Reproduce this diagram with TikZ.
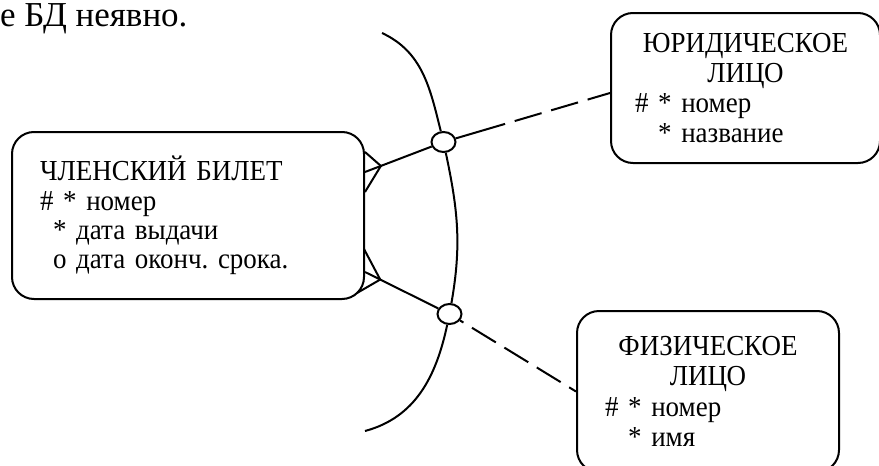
\documentclass[tikz,border=0pt]{standalone}
\usepackage{fontspec}
\setmainfont{Liberation Serif}
\newfontfamily\boxfont[FakeStretch=0.93]{Liberation Serif}
\usepackage{tikz}
\usepackage{xcolor}
\usetikzlibrary{calc,shapes}
\newcommand{\attr}[1]{\phantom{\#} #1}
\frenchspacing

\begin{document}
\begin{tikzpicture}[x=0.5pt, y=0.5pt, line width=1pt,
        entity/.style={draw, rounded corners=11pt, align=left, inner ysep=0pt,
            font=\boxfont\fontsize{14.5pt}{14.6pt}\selectfont},
        link/.style={line width=1pt},
        optional/.style={line width=1pt, dash pattern=on 14pt off 5pt},
        ring/.style={draw, ellipse, fill=white, minimum width=12pt, minimum height=10pt, inner sep=0pt}]
                \useasboundingbox (0,0) rectangle (879,-466);
                \node[anchor=base west, inner sep=0pt, font=\fontsize{17.5pt}{20pt}\selectfont] (note) at (-1,-26) {е БД неявно.};
                \node[entity, minimum width=176pt, minimum height=83.5pt, inner xsep=14pt, text width=148pt] (bilet) at (188,-215.5) {
                    ЧЛЕНСКИЙ БИЛЕТ\\
                    \# * номер\\
                    \hspace*{6.5pt}* дата выдачи\\
                    \hspace*{6.5pt}о дата оконч. срока.};
                \node[entity, minimum width=134.5pt, minimum height=75pt, inner xsep=12pt, text width=110.5pt,
                    font=\boxfont\fontsize{14.5pt}{15pt}\selectfont] (yur) at (745.5,-88) {
                    {\centering ЮРИДИЧЕСКОЕ\\ЛИЦО\par}
                    \# * номер\\
                    \attr{* название}};
                \node[entity, minimum width=131pt, minimum height=80.5pt, inner xsep=14pt, text width=103pt,
                    font=\boxfont\fontsize{14.5pt}{15.2pt}\selectfont] (fiz) at (708,-391.5) {
                    {\centering ФИЗИЧЕСКОЕ\\ЛИЦО\par}
                    \# * номер\\
                    \attr{* имя}};
                \node[ring] (c1) at (443.5,-142) {};
                \node[ring] (c2) at (449.5,-314) {};
                \coordinate (arctop) at (382,-33);
                \coordinate (arcend) at (365,-431);
                \coordinate (f1) at ($(bilet.east)+(0,43.5)$);
                \coordinate (f2) at ($(bilet.east)+(0,-56.5)$);
                \coordinate (y1) at ($(yur.west)+(0,-5)$);
                \coordinate (z1) at (fiz.west);
                \coordinate (m1) at ($(c1)!0.37!(y1)$);
                \coordinate (v1) at ($(f1)!8.5pt!(c1)$);
                \coordinate (v2) at ($(f2)!8.5pt!(c2)$);
                \draw (arctop) to[out=-25, in=104] (c1);
                \draw (c1) to[out=-78, in=80] (c2);
                \draw (c2) to[out=-102, in=15] (arcend);
                \draw[link] (f1) -- (c1);
                \draw[link] (c1) -- (m1);
                \draw[optional, dash phase=14pt] (m1) -- (y1);
                \draw[link] (f2) -- (c2);
                \draw[optional, dash phase=12pt] (c2) -- (z1);
                \draw[link] ($(f1)+(0,20)$) -- (v1) -- ($(f1)+(0,-20)$);
                \draw[link] ($(f2)+(-1,23)$) -- (v2) -- ($(f2)+(-8,-21)$);
\end{tikzpicture}
\end{document}
